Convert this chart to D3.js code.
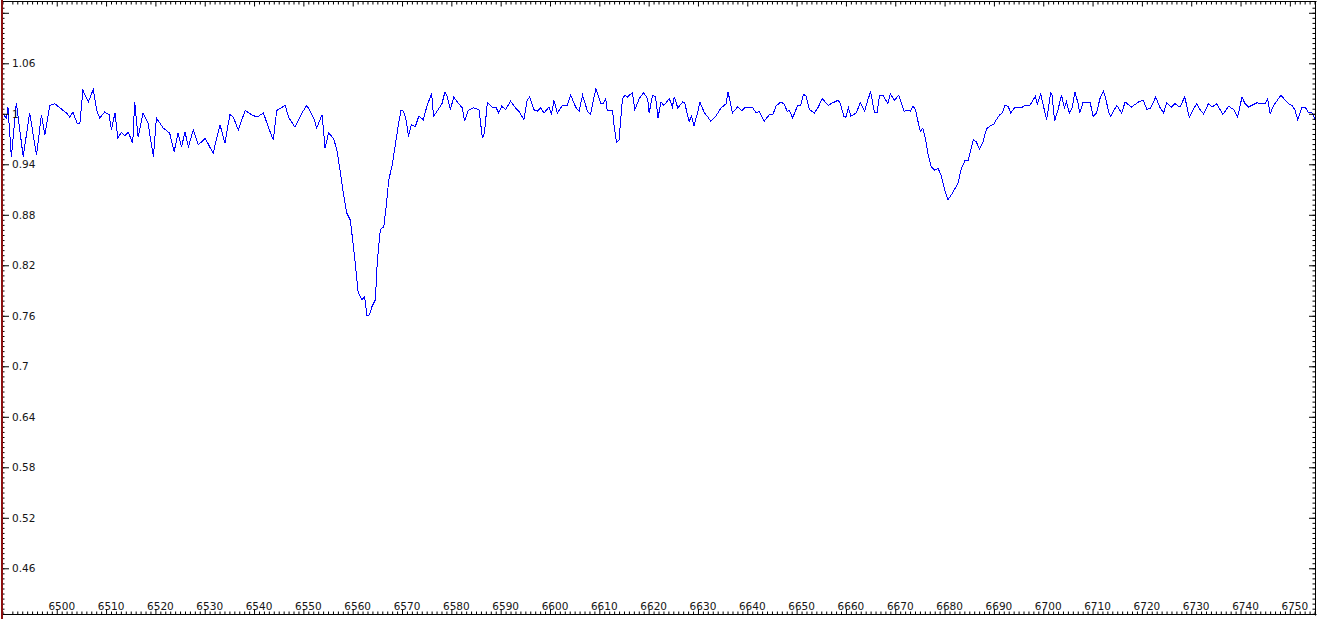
<!DOCTYPE html>
<html>
<head>
<meta charset="utf-8">
<script src="https://cdn.jsdelivr.net/npm/d3@7"></script>
<style>
  body { margin: 0; background: #fff; }
  svg { display: block; }
  .lbl { font-family: "DejaVu Sans", Verdana, sans-serif; font-size: 10.5px; fill: #151515; }
</style>
</head>
<body>
<svg id="chart" width="1318" height="619"></svg>
<script>
// spectrum: wavelength (A) and normalised flux
const wavelength = [
  6488.9, 6489.8, 6490.1, 6490.8, 6491.8, 6493.2, 6494.5, 6495.9, 6496.9, 6497.6,
  6498.6, 6499.6, 6501.3, 6502.0, 6502.6, 6503.3, 6504.1, 6504.7, 6505.3, 6506.4,
  6507.4, 6508.1, 6508.7, 6509.7, 6510.6, 6511.1, 6511.8, 6512.4, 6513.1, 6513.8,
  6514.5, 6515.4, 6515.8, 6516.5, 6517.5, 6518.5, 6519.6, 6520.2, 6521.6, 6522.9,
  6523.8, 6524.6, 6525.3, 6526.0, 6526.7, 6527.7, 6528.7, 6530.1, 6531.7, 6533.1,
  6534.1, 6535.1, 6535.8, 6536.8, 6538.2, 6539.5, 6540.6, 6541.9, 6542.9, 6543.9,
  6544.6, 6546.3, 6547.0, 6548.3, 6549.7, 6550.7, 6552.1, 6552.7, 6553.8, 6554.4,
  6555.1,
  6556.1, 6556.8, 6557.5, 6558.1, 6558.8, 6559.5, 6560.0, 6560.5, 6561.1, 6561.9,
  6562.4, 6562.9, 6563.4, 6563.9, 6564.6, 6565.0, 6565.6, 6566.3, 6566.8, 6567.3,
  6568.0, 6568.6, 6569.3, 6569.8, 6570.3, 6570.9, 6571.3, 6571.9, 6572.7, 6573.4,
  6574.3, 6575.1, 6576.0, 6576.4, 6577.1, 6578.1, 6578.7, 6579.1,
  6579.8, 6580.5, 6581.2, 6582.2, 6582.7, 6583.4, 6584.5, 6585.6, 6586.3, 6586.7,
  6587.3, 6588.3, 6589.0, 6589.6, 6590.2, 6591.0, 6592.0, 6593.0, 6593.7, 6594.7,
  6595.4, 6595.9, 6596.7, 6597.4, 6598.1, 6598.8, 6599.8, 6600.3, 6600.8, 6601.5,
  6602.5, 6603.5, 6604.2, 6605.2, 6605.9, 6606.6, 6607.6, 6608.2, 6609.3, 6610.3,
  6610.8, 6611.3, 6611.6, 6612.7, 6613.0, 6613.5, 6614.0, 6614.7, 6615.2, 6615.7,
  6616.7, 6617.2, 6618.1, 6619.0, 6619.8, 6620.1, 6620.8, 6621.4, 6621.9, 6622.5,
  6623.1, 6624.2, 6624.8, 6625.2, 6625.9, 6626.9, 6627.3, 6628.2, 6628.7, 6629.2,
  6629.9, 6630.4, 6631.3, 6631.9, 6632.6, 6633.6, 6634.7, 6635.7, 6636.1, 6637.0,
  6638.0, 6638.9, 6639.7,
  6641.1, 6641.8, 6642.4, 6643.4, 6644.5, 6645.2, 6645.8, 6646.8, 6647.4, 6648.1,
  6648.5, 6649.2, 6650.2, 6650.8, 6651.4, 6651.9, 6652.6, 6653.6, 6654.3, 6655.2,
  6656.4, 6657.3, 6658.4, 6658.8, 6659.6, 6660.0, 6660.5, 6661.0, 6662.1, 6662.9,
  6663.8, 6664.4, 6665.0, 6665.8, 6666.3, 6666.8, 6667.5, 6668.5, 6669.0, 6669.8,
  6670.7, 6671.8, 6672.6, 6673.1, 6673.6, 6674.1, 6674.6, 6675.1, 6675.6, 6676.1,
  6676.6, 6677.3, 6678.0, 6678.7, 6679.3, 6680.0, 6680.7, 6681.4, 6682.0, 6682.7,
  6683.4, 6684.1, 6684.8, 6685.8, 6686.4, 6687.1, 6687.8, 6688.5, 6689.1, 6690.0,
  6690.5, 6691.2, 6691.7,
  6692.2, 6692.9, 6693.4, 6694.2, 6695.6, 6696.2, 6697.3, 6698.4, 6698.8, 6699.5,
  6700.0, 6700.7, 6701.5, 6701.8, 6702.3, 6703.0, 6703.7, 6704.3, 6704.7, 6705.3,
  6705.9, 6706.4, 6707.0, 6707.4, 6708.1, 6709.5, 6710.1, 6710.8, 6711.5, 6712.2,
  6712.6, 6713.3, 6713.7, 6714.9, 6715.9, 6716.6, 6717.9, 6719.3, 6720.3, 6721.0,
  6721.8, 6722.8, 6723.7, 6724.4, 6725.0, 6726.0, 6726.7, 6727.7, 6728.7, 6729.6,
  6730.4, 6731.1, 6731.8, 6732.5, 6733.5, 6734.2, 6735.2, 6736.4, 6737.6, 6738.6,
  6739.4, 6740.3, 6740.9, 6741.6, 6743.3, 6745.0, 6745.5, 6746.0, 6746.7, 6748.2,
  6749.1, 6749.7, 6750.4, 6751.0, 6751.6, 6752.4, 6753.1, 6753.8, 6754.5, 6755.1,
  6755.6
];

const flux = [
  1.001, 0.995, 1.008, 0.949, 1.013, 0.949, 1.001, 0.951, 0.999, 0.975,
  1.010, 1.012, 1.004, 1.001, 0.996, 1.002, 0.989, 0.989, 1.028, 1.014,
  1.029, 1.004, 0.995, 1.002, 0.999, 0.981, 1.001, 0.971, 0.978, 0.974,
  0.978, 0.965, 1.014, 0.972, 1.001, 0.989, 0.949, 0.995, 0.983, 0.977,
  0.955, 0.977, 0.961, 0.978, 0.961, 0.981, 0.963, 0.971, 0.953, 0.987,
  0.965, 0.999, 0.996, 0.981, 1.004, 0.999, 0.996, 1.001, 0.984, 0.969,
  1.004, 1.010, 0.996, 0.984, 1.001, 1.010, 0.995, 0.983, 0.999, 0.959,
  0.977,
  0.971, 0.957, 0.930, 0.906, 0.882, 0.874, 0.850, 0.823, 0.788, 0.779,
  0.783, 0.760, 0.761, 0.771, 0.779, 0.826, 0.862, 0.866, 0.890, 0.921,
  0.939, 0.961, 0.989, 1.004, 1.003, 0.991, 0.973, 0.987, 0.985, 0.997,
  0.993, 1.010, 1.024, 0.997, 1.003, 1.012, 1.026, 1.022,
  1.005, 1.020, 1.014, 1.007, 0.991, 1.004, 1.007, 1.005, 0.971, 0.977,
  1.013, 1.008, 1.008, 1.001, 1.009, 1.005, 1.015, 1.007, 1.003, 0.993,
  1.017, 1.020, 1.005, 1.003, 1.007, 1.001, 1.008, 0.999, 1.016, 1.001,
  1.010, 1.010, 1.022, 1.008, 1.003, 1.022, 1.003, 0.999, 1.030, 1.012,
  1.012, 1.018, 1.004, 1.004, 0.985, 0.966, 0.969, 1.018, 1.022, 1.020,
  1.025, 1.005, 1.018, 1.025, 1.018, 1.001, 1.022, 1.020, 0.995, 1.014,
  1.010, 1.018, 1.008, 1.020, 1.007, 1.014, 1.013, 0.991, 0.997, 0.986,
  1.001, 1.014, 1.001, 0.997, 0.991, 0.997, 1.007, 1.012, 1.026, 1.001,
  1.008, 1.004, 1.008,
  1.007, 1.001, 1.003, 0.991, 0.999, 0.999, 1.009, 1.014, 1.012, 1.003,
  1.004, 0.995, 1.010, 1.010, 1.023, 1.021, 1.005, 1.001, 1.007, 1.018,
  1.010, 1.013, 1.016, 1.013, 0.997, 0.996, 1.007, 0.997, 1.001, 1.013,
  1.003, 1.016, 1.026, 1.001, 1.001, 1.022, 1.022, 1.012, 1.024, 1.016,
  1.022, 1.003, 1.004, 1.003, 1.009, 1.005, 0.991, 0.979, 0.983, 0.971,
  0.953, 0.937, 0.933, 0.935, 0.927, 0.910, 0.898, 0.904, 0.910, 0.917,
  0.935, 0.944, 0.945, 0.969, 0.967, 0.958, 0.967, 0.982, 0.985, 0.988,
  0.993, 0.999, 1.001,
  1.010, 1.009, 1.001, 1.007, 1.007, 1.010, 1.010, 1.021, 1.012, 1.024,
  1.010, 0.993, 1.025, 1.022, 0.991, 1.005, 1.022, 1.007, 1.014, 1.001,
  1.008, 1.026, 1.014, 1.001, 1.014, 1.014, 0.997, 1.001, 1.018, 1.027,
  1.020, 1.001, 0.997, 1.010, 1.001, 1.014, 1.008, 1.014, 1.016, 1.005,
  1.007, 1.020, 1.007, 1.001, 1.013, 1.008, 1.012, 1.008, 1.020, 0.996,
  1.005, 1.012, 1.005, 1.000, 1.012, 1.008, 1.012, 0.999, 1.009, 1.005,
  0.996, 1.020, 1.012, 1.008, 1.013, 1.012, 1.018, 1.000, 1.010, 1.022,
  1.016, 1.012, 1.010, 1.005, 0.993, 1.007, 1.008, 1.001, 1.001, 0.993,
  1.010
];

const xLabelTicks = [6500, 6510, 6520, 6530, 6540, 6550, 6560, 6570, 6580, 6590, 6600,
  6610, 6620, 6630, 6640, 6650, 6660, 6670, 6680, 6690, 6700, 6710, 6720, 6730, 6740, 6750];
const yMajorTicks = [0.46, 0.52, 0.58, 0.64, 0.7, 0.76, 0.82, 0.88, 0.94, 1, 1.06, 1.12];
const yLabelTicks = [0.46, 0.52, 0.58, 0.64, 0.7, 0.76, 0.82, 0.88, 0.94, 1, 1.06];

const svg = d3.select('svg#chart');
const x = d3.scaleLinear().domain([6488.9, 6755.3]).range([2, 1316]);
const y = d3.scaleLinear().domain([0.4045, 1.134]).range([615, 1]);

const xMinor = d3.range(6489, 6756).filter(v => v % 10 !== 0);
const yMinor = d3.range(-9, 112).map(k => +(0.46 + k * 0.006).toFixed(3))
  .filter(v => v > 0.4045 && v < 1.134);

const noLabel = () => '';

const drawAxis = (axisFn, scale, pos, values, size, keepDomain) => {
  const g = svg.append('g')
    .attr('transform', pos)
    .call(axisFn(scale).tickValues(values).tickSizeInner(-size).tickSizeOuter(0).tickFormat(noLabel));
  g.selectAll('text').remove();
  g.selectAll('line').attr('stroke', '#000');
  if (!keepDomain) g.select('.domain').remove();
  return g;
};

// plot line, clipped to the frame
svg.append('clipPath').attr('id', 'plotclip')
  .append('rect').attr('x', 2).attr('y', 1).attr('width', 1314).attr('height', 614);

svg.append('path')
  .datum(d3.zip(wavelength, flux))
  .attr('clip-path', 'url(#plotclip)')
  .attr('fill', 'none')
  .attr('stroke', '#0000ff')
  .attr('stroke-width', 1)
  .attr('shape-rendering', 'crispEdges')
  .attr('d', d3.line().x(d => x(d[0])).y(d => y(d[1])));

// frame with inward ticks
drawAxis(d3.axisBottom, x, 'translate(0,614)', xLabelTicks, 5, true).select('.domain').attr('stroke', '#000');
drawAxis(d3.axisBottom, x, 'translate(0,614)', xMinor, 2.5, false);
drawAxis(d3.axisTop, x, 'translate(0,1)', xLabelTicks, 5.5, true).select('.domain').attr('stroke', '#000');
drawAxis(d3.axisTop, x, 'translate(0,1)', xMinor, 3.5, false);
drawAxis(d3.axisRight, y, 'translate(1315,0)', yMajorTicks, 6, true).select('.domain').attr('stroke', '#000');
drawAxis(d3.axisRight, y, 'translate(1315,0)', yMinor, 2.5, false);
drawAxis(d3.axisLeft, y, 'translate(1.5,0)', yMajorTicks, 7.5, false);
drawAxis(d3.axisLeft, y, 'translate(1.5,0)', yMinor, 3, false);

svg.append('line')
  .attr('x1', 2).attr('x2', 2).attr('y1', 0).attr('y2', 619)
  .attr('stroke', '#8b1010').attr('stroke-width', 2);

// labels
svg.append('g').selectAll('text').data(xLabelTicks)
  .enter().append('text')
    .attr('class', 'lbl')
    .attr('x', d => x(d) + 5)
    .attr('y', 610)
    .attr('text-anchor', 'middle')
    .text(d => d);

svg.append('g').selectAll('text').data(yLabelTicks)
  .enter().append('text')
    .attr('class', 'lbl')
    .attr('x', 12)
    .attr('y', d => y(d))
    .attr('dy', '0.36em')
    .text(d => String(+d.toFixed(2)));
</script>
</body>
</html>
